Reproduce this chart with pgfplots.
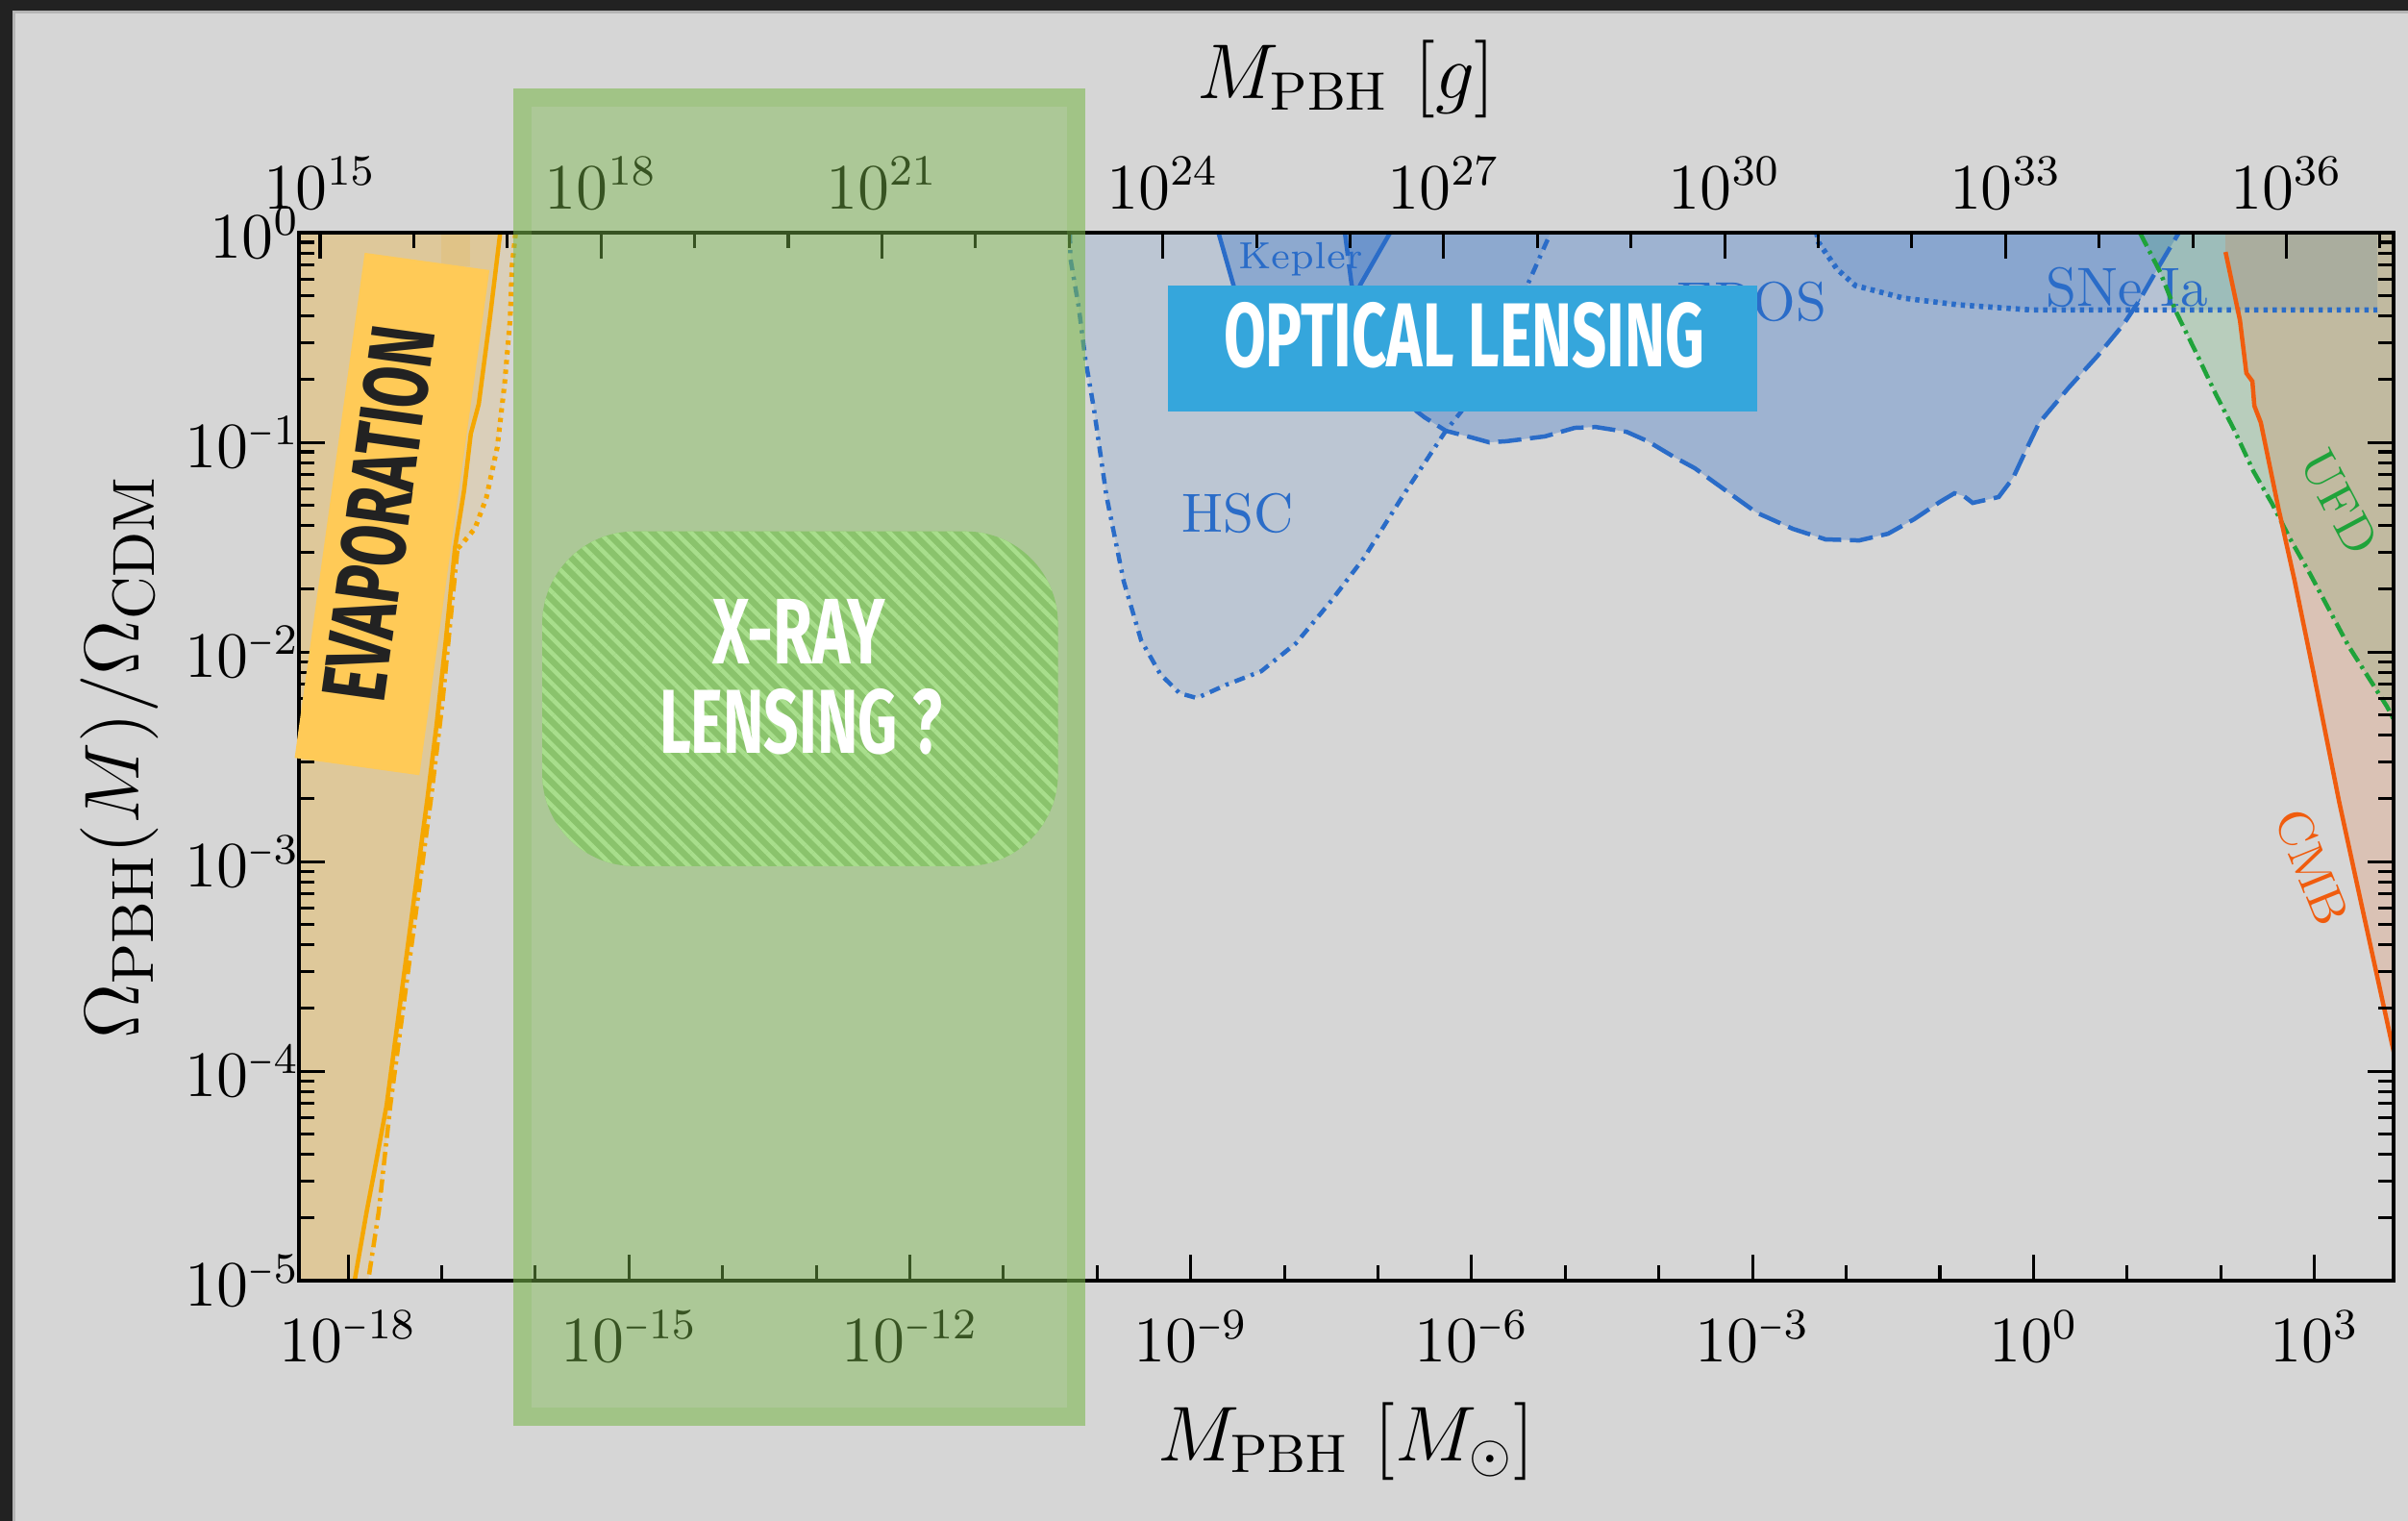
\documentclass[border=0pt]{standalone}
\usepackage{fontspec}
\usepackage{graphicx}
\usepackage{pgfplots}
\pgfplotsset{compat=1.18}
\usepackage{pgfplotstable}
\usetikzlibrary{patterns.meta}
\newfontfamily\condfont{Fira Sans}
\newcommand{\smin}{\mathord{\scalebox{0.7}[1]{$\scriptstyle -$}}}

\definecolor{bgc}{RGB}{214,214,214}
\definecolor{framec}{RGB}{34,34,34}
\definecolor{framelight}{RGB}{180,180,180}
\definecolor{pblue}{RGB}{42,108,200}
\definecolor{pgreen}{RGB}{31,163,58}
\definecolor{pcmb}{RGB}{240,92,14}
\definecolor{porange}{RGB}{245,167,0}
\definecolor{optblue}{RGB}{53,166,220}
\definecolor{evapyellow}{RGB}{255,202,87}
\definecolor{xgreen}{RGB}{123,185,76}
\definecolor{hatchbase}{RGB}{138,195,108}
\definecolor{hatchline}{RGB}{168,222,140}
\definecolor{darktext}{RGB}{34,34,34}

% ---------------- data (M in solar masses, f = Omega_PBH/Omega_CDM) ----------------
\pgfplotstableread{
x y
5.13e-11 1
5.19e-11 0.752
6.35e-11 0.4436
7.48e-11 0.2506
9.27e-11 0.1432
1.259e-10 0.05534
1.928e-10 0.02163
2.951e-10 0.01135
4.732e-10 0.00783
7.603e-10 0.006353
1.161e-9 0.006026
2.415e-9 0.006982
5.662e-9 0.008091
1.327e-8 0.01099
3.105e-8 0.01734
7.112e-8 0.02818
1.832e-7 0.05534
5.297e-7 0.1135
7.745e-7 0.1403
3.954e-6 0.5649
6.353e-6 0.9099
6.982e-6 1
}\hsc

\pgfplotstableread{
x y
4.426e-8 1
5.224e-8 0.5649
8.185e-8 0.2877
1.479e-7 0.1786
2.606e-7 0.1403
3.148e-7 0.1315
5.297e-7 0.1135
1.005e-6 0.1054
1.538e-6 0.1
2.350e-6 0.1012
6.053e-6 0.1067
1.259e-5 0.1172
2.118e-5 0.1183
4.519e-5 0.1122
7.603e-5 0.1012
1.439e-4 0.0853
2.421e-4 0.0752
3.972e-4 0.0641
1.099e-3 0.04624
2.698e-3 0.03864
6.026e-3 0.03443
1.377e-2 0.03404
2.799e-2 0.03664
5.297e-2 0.04295
0.1005 0.0520
0.1432 0.05715
0.1811 0.05534
0.2244 0.0514
0.4246 0.05483
0.6053 0.06761
0.8433 0.0929
1.146 0.1236
2.382 0.1824
4.842 0.2588
9.183 0.3664
13.40 0.4721
20.99 0.6699
35.73 1
}\eros

\pgfplotstableread{
x y
1.977e-9 1
2.851e-9 0.5649
4.266e-9 0.2877
8.670e-9 0.1884
1.762e-8 0.1786
3.581e-8 0.2877
6.471e-8 0.5649
1.346e-7 1
}\kepler

\pgfplotstableread{
x y
4.842e-3 1
5.058e-3 0.8995
7.998e-3 0.6699
1.253e-2 0.5598
4.093e-2 0.4875
0.1574 0.4529
0.9705 0.428
3.741 0.428
14.39 0.428
4710 0.428
}\sne

\pgfplotstableread{
x y
13.71 1
22.54 0.6486
32.89 0.4246
56.62 0.2588
88.72 0.1694
139.0 0.1148
223.4 0.07278
349.9 0.0514
548.3 0.03475
899.5 0.02355
1253 0.01786
2317 0.01067
5970 0.005483
7379 0.004581
}\ufd

\pgfplotstableread{
x y
112.5 0.8091
160.3 0.3828
187.9 0.2138
217.8 0.1954
228.6 0.1493
267.9 0.1242
413.0 0.04853
612.4 0.02208
984.0 0.007870
1832 0.001945
3206 0.0006152
6714 0.0001358
7413 0.0001122
}\cmb

\pgfplotstableread{
x y
4.217e-17 1
3.273e-17 0.3908
2.489e-17 0.1524
2.046e-17 0.1099
1.738e-17 0.05929
1.387e-17 0.03141
1.107e-17 0.01138
8.790e-18 0.004436
7.047e-18 0.002009
2.576e-18 6.839e-5
1.923e-18 3.381e-5
1.581e-18 2.138e-5
1.175e-18 1e-5
1.096e-18 7.94e-6
}\evapsolid

\pgfplotstableread{
x y
1.549e-18 7.94e-6
1.641e-18 1e-5
2.128e-18 2.138e-5
2.825e-18 6.839e-5
7.709e-18 0.002009
1.014e-17 0.005598
1.479e-17 0.03126
}\evapdashdot

\pgfplotstableread{
x y
1.479e-17 0.03126
1.589e-17 0.03214
2.265e-17 0.03882
2.992e-17 0.0542
3.926e-17 0.09484
4.710e-17 0.1923
5.395e-17 0.3908
5.636e-17 0.6902
6.166e-17 1
}\evapdotted

\begin{document}
\begin{tikzpicture}
\fill[bgc] (0,0) rectangle (15.68,9.902);
\fill[framec] (0,9.832) rectangle (15.68,9.902);
\fill[framec] (0,0) rectangle (0.083,9.902);
\draw[framelight, line width=0.6pt] (0.092,0) -- (0.092,9.823) -- (15.68,9.823);

\begin{axis}[
  at={(1.947cm,1.564cm)}, anchor=south west,
  scale only axis, width=13.639cm, height=6.823cm,
  xmode=log, ymode=log,
  xmin=2.992e-19, xmax=7015, ymin=1e-5, ymax=1,
  axis on top,
  xtick={1e-18,1e-15,1e-12,1e-9,1e-6,1e-3,1,1e3},
  xticklabels={$10^{\smin18}$,$10^{\smin15}$,$10^{\smin12}$,$10^{\smin9}$,$10^{\smin6}$,$10^{\smin3}$,$10^{0}$,$10^{3}$},
  minor xtick={1e-17,1e-16,1e-14,1e-13,1e-11,1e-10,1e-8,1e-7,1e-5,1e-4,1e-2,1e-1,10,100},
  xtick pos=left,
  ytick={1e-5,1e-4,1e-3,1e-2,1e-1,1},
  yticklabels={$10^{\smin5}$,$10^{\smin4}$,$10^{\smin3}$,$10^{\smin2}$,$10^{\smin1}$,$10^{0}$},
  minor ytick={2e-5,3e-5,4e-5,5e-5,6e-5,7e-5,8e-5,9e-5,2e-4,3e-4,4e-4,5e-4,6e-4,7e-4,8e-4,9e-4,2e-3,3e-3,4e-3,5e-3,6e-3,7e-3,8e-3,9e-3,0.02,0.03,0.04,0.05,0.06,0.07,0.08,0.09,0.2,0.3,0.4,0.5,0.6,0.7,0.8,0.9},
  tick align=inside,
  major tick length=0.17cm, minor tick length=0.10cm,
  every tick/.style={black, line width=0.55pt},
  axis line style={black, line width=0.65pt},
  tick label style={font=\fontsize{11.8}{14}\selectfont},
  xticklabel style={anchor=base, yshift=-0.53cm},
  yticklabel style={anchor=east, inner sep=0pt, xshift=0.01cm},
  xlabel={$M_{\mathrm{PBH}}\ [M_\odot]$},
  xlabel style={font=\fontsize{14.3}{17}\selectfont, at={([yshift=-1.17cm]axis description cs:0.5,0)}, anchor=base},
  ylabel={$\Omega_{\mathrm{PBH}}(M)/\Omega_{\mathrm{CDM}}$},
  ylabel style={font=\fontsize{15.7}{18}\selectfont, at={([xshift=-1.04cm]axis description cs:0,0.5)}, anchor=base},
]
% evaporation fills
\addplot[draw=none, fill=porange, fill opacity=0.28] coordinates {
(1e-20,7.94e-6) (1e-20,1.2) (4.217e-17,1.2) (4.217e-17,1) (3.273e-17,0.3908) (2.489e-17,0.1524) (2.046e-17,0.1099) (1.738e-17,0.05929) (1.387e-17,0.03141) (1.107e-17,0.01138) (8.790e-18,0.004436) (7.047e-18,0.002009) (2.576e-18,6.839e-5) (1.923e-18,3.381e-5) (1.581e-18,2.138e-5) (1.175e-18,1e-5) (1.096e-18,7.94e-6)} -- cycle;
\addplot[draw=none, fill=porange, fill opacity=0.13] coordinates {
(1.549e-18,7.94e-6) (1.641e-18,1e-5) (2.128e-18,2.138e-5) (2.825e-18,6.839e-5) (7.709e-18,0.002009) (1.014e-17,0.005598) (1.479e-17,0.03126) (1.589e-17,0.03214) (2.265e-17,0.03882) (2.992e-17,0.0542) (3.926e-17,0.09484) (4.710e-17,0.1923) (5.395e-17,0.3908) (5.636e-17,0.6902) (6.166e-17,1) (6.166e-17,1.2) (4.217e-17,1.2) (4.217e-17,1) (3.273e-17,0.3908) (2.489e-17,0.1524) (2.046e-17,0.1099) (1.738e-17,0.05929) (1.387e-17,0.03141) (1.107e-17,0.01138) (8.790e-18,0.004436) (7.047e-18,0.002009) (2.576e-18,6.839e-5) (1.923e-18,3.381e-5) (1.581e-18,2.138e-5) (1.175e-18,1e-5) (1.096e-18,7.94e-6)} -- cycle;
\addplot[draw=none, fill=porange, fill opacity=0.12] coordinates {(1e-17,1.2) (1e-17,0.69) (2.01e-17,0.69) (2.01e-17,1.2)} -- cycle;
% lensing fills
\addplot[draw=none, fill=pblue, fill opacity=0.15] table {\hsc} -- cycle;
\addplot[draw=none, fill=pblue, fill opacity=0.32] table {\eros} -- cycle;
\addplot[draw=none, fill=pblue, fill opacity=0.32] table {\kepler} -- cycle;
\addplot[draw=none, fill=pblue, fill opacity=0.18] coordinates {
(4.842e-3,1.2) (4.842e-3,1) (5.058e-3,0.8995) (7.998e-3,0.6699) (1.253e-2,0.5598) (4.093e-2,0.4875) (0.1574,0.4529) (0.9705,0.428) (3.741,0.428) (14.39,0.428) (4710,0.428) (4710,1.2)} -- cycle;
\addplot[draw=none, fill=pgreen, fill opacity=0.16] coordinates {
(13.71,1.2) (13.71,1) (22.54,0.6486) (32.89,0.4246) (56.62,0.2588) (88.72,0.1694) (139.0,0.1148) (223.4,0.07278) (349.9,0.0514) (548.3,0.03475) (899.5,0.02355) (1253,0.01786) (2317,0.01067) (5970,0.005483) (7379,0.004581) (7379,1.2)} -- cycle;
\addplot[draw=none, fill=pcmb, fill opacity=0.16] coordinates {
(112.5,1.2) (112.5,0.8091) (160.3,0.3828) (187.9,0.2138) (217.8,0.1954) (228.6,0.1493) (267.9,0.1242) (413.0,0.04853) (612.4,0.02208) (984.0,0.007870) (1832,0.001945) (3206,0.0006152) (6714,0.0001358) (7413,0.0001122) (7413,1.2)} -- cycle;
% labels
\node[text=pblue, font=\fontsize{7}{8}\selectfont, anchor=base, inner sep=0pt] at (axis cs:1.493e-8,0.6699) {Kepler};
\node[text=pblue, font=\fontsize{10.2}{12}\selectfont, inner sep=0pt] at (axis cs:3.184e-9,0.04603) {HSC};
\node[text=pblue, font=\fontsize{10.2}{12}\selectfont, anchor=east, inner sep=0pt] at (axis cs:6.31e-3,0.468) {EROS};
\node[text=pblue, font=\fontsize{10.2}{12}\selectfont, inner sep=0pt] at (axis cs:9.977,0.548) {SNe Ia};
\node[text=pgreen, font=\fontsize{9.2}{11}\selectfont, rotate=-62, inner sep=0pt] at (axis cs:1828,0.05164) {UFD};
\node[text=pcmb, font=\fontsize{9.2}{11}\selectfont, rotate=-68, inner sep=0pt] at (axis cs:944.1,9.419e-4) {CMB};
% lines
\addplot[porange, line width=0.8pt] table {\evapsolid};
\addplot[porange, line width=0.8pt, dash pattern=on 2.5pt off 1pt on 0.6pt off 1pt] table {\evapdashdot};
\addplot[porange, line width=0.9pt, dash pattern=on 0.8pt off 1pt] table {\evapdotted};
\addplot[pblue, line width=0.8pt, dash pattern=on 2pt off 1.2pt on 0.6pt off 1.2pt] table {\hsc};
\addplot[pblue, line width=0.8pt, dash pattern=on 4.3pt off 1.6pt] table {\eros};
\addplot[pblue, line width=0.8pt] table {\kepler};
\addplot[pblue, line width=1pt, dash pattern=on 0.8pt off 0.9pt] table {\sne};
\addplot[pgreen, line width=0.8pt, dash pattern=on 2.8pt off 1pt on 0.6pt off 1pt] table {\ufd};
\addplot[pcmb, line width=0.8pt] table {\cmb};
\end{axis}

\begin{axis}[
  at={(1.947cm,1.564cm)}, anchor=south west,
  scale only axis, width=13.639cm, height=6.823cm,
  xmode=log, ymode=log,
  xmin=2.992e-19, xmax=7015, ymin=1e-5, ymax=1,
  axis x line*=top, hide y axis,
  clip=false,
  xtick={5.028e-19,5.028e-16,5.028e-13,5.028e-10,5.028e-7,5.028e-4,0.5028,502.8},
  xticklabels={$10^{15}$,$10^{18}$,$10^{21}$,$10^{24}$,$10^{27}$,$10^{30}$,$10^{33}$,$10^{36}$},
  minor xtick={5.028e-18,5.028e-17,5.028e-15,5.028e-14,5.028e-12,5.028e-11,5.028e-9,5.028e-8,5.028e-6,5.028e-5,5.028e-3,5.028e-2,5.028,50.28,5028},
  tick align=inside,
  major tick length=0.17cm, minor tick length=0.10cm,
  every tick/.style={black, line width=0.55pt},
  axis line style={black, line width=0.65pt},
  tick label style={font=\fontsize{11.8}{14}\selectfont},
  xticklabel style={anchor=base, yshift=0.155cm},
  xlabel={$M_{\mathrm{PBH}}\ [g]$},
  xlabel style={font=\fontsize{14.3}{17}\selectfont, at={([yshift=0.875cm]axis description cs:0.5,1)}, anchor=base},
]
% EVAPORATION tag
\node[rotate=-7.9, fill=evapyellow, minimum width=0.82cm, minimum height=3.32cm, inner sep=0pt] at (axis cs:2.951e-18,0.0455) {};
\node[rotate=82.1, inner sep=0pt, text=darktext] at ([xshift=-0.09cm]axis cs:2.951e-18,0.0455) {\resizebox{2.45cm}{0.42cm}{\condfont\bfseries EVAPORATION}};
% OPTICAL LENSING tag
\fill[optblue] (axis cs:5.715e-10,0.1409) rectangle (axis cs:1.125e-3,0.5598);
\node[text=white, inner sep=0pt] at (axis cs:8.318e-7,0.3247) {\resizebox{3.13cm}{0.42cm}{\condfont\bfseries OPTICAL LENSING}};
% X-ray band
\fill[xgreen, fill opacity=0.45] (axis cs:5.834e-17,2.028e-6) rectangle (axis cs:7.48e-11,4.875);
\draw[xgreen, draw opacity=0.22, line width=0.119cm] ([xshift=0.0595cm,yshift=0.0595cm]axis cs:5.834e-17,2.028e-6) rectangle ([xshift=-0.0595cm,yshift=-0.0595cm]axis cs:7.48e-11,4.875);
\fill[hatchbase, rounded corners=0.6cm] (axis cs:1.186e-16,9.506e-4) rectangle (axis cs:3.819e-11,0.03758);
\fill[pattern={Lines[angle=-45,distance=2pt,line width=0.8pt]}, pattern color=hatchline, rounded corners=0.6cm] (axis cs:1.186e-16,9.506e-4) rectangle (axis cs:3.819e-11,0.03758);
\node[text=white, inner sep=0pt] at (axis cs:6.531e-14,0.01256) {\resizebox{1.12cm}{0.42cm}{\condfont\bfseries X-RAY}};
\node[text=white, inner sep=0pt] at (axis cs:6.839e-14,0.004648) {\resizebox{1.84cm}{0.42cm}{\condfont\bfseries LENSING ?}};
\end{axis}
\pgfresetboundingbox
\useasboundingbox (0,0) rectangle (15.68,9.902);
\end{tikzpicture}
\end{document}
